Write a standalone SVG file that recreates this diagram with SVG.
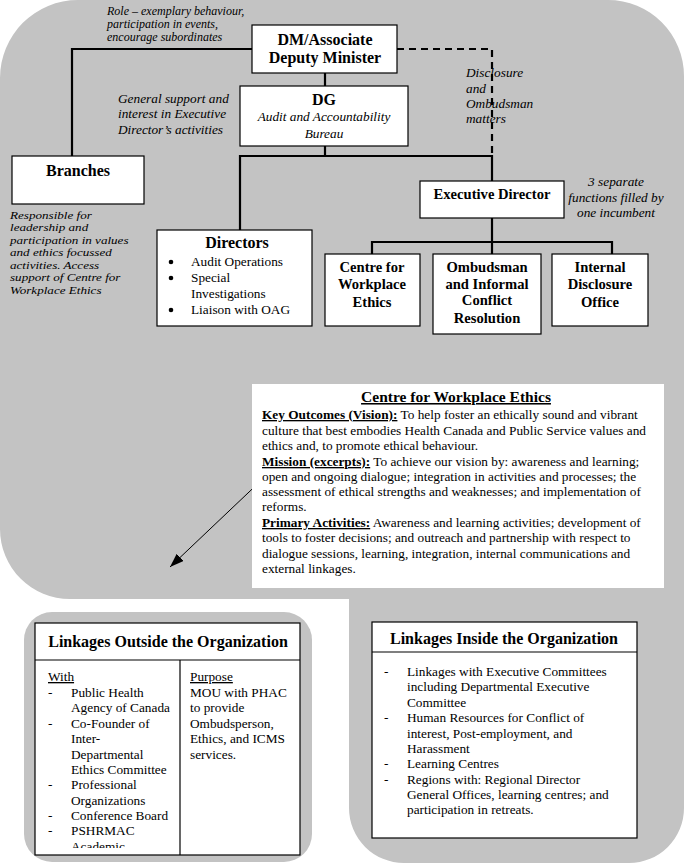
<svg xmlns="http://www.w3.org/2000/svg" width="686" height="865" viewBox="0 0 686 865">
<style>
text{font-family:"Liberation Serif","Times New Roman",serif;fill:#000}
.b{font-weight:bold}
.i{font-style:italic;font-size:13.3px}
.s{font-size:12px}
.xs{font-size:11.4px}
.t16{font-size:16px}
.t14{font-size:14.6px}
.r{font-size:13.3px}
.m{text-anchor:middle}
.u{text-decoration:underline}
.box{fill:#fff;stroke:#000;stroke-width:1.2}
.conn{fill:none;stroke:#000;stroke-width:2.2}
.dash{fill:none;stroke:#000;stroke-width:2.2;stroke-dasharray:7,5}
.bg{fill:#c3c3c3}
</style>
<defs>
<marker id="ah" markerUnits="userSpaceOnUse" markerWidth="15" markerHeight="11" refX="14" refY="5" orient="auto">
<path d="M0,0 L14,5 L0,10 Z" fill="#000"/>
</marker>
<clipPath id="clipOut"><rect x="36" y="661" width="144" height="187"/></clipPath>
</defs>

<g id="background">
<path class="bg" d="M78,0 H608 A76,76 0 0 1 684,76 V808 A55,55 0 0 1 629,863 H404 A55,55 0 0 1 349,808 V599 H70 A70,70 0 0 1 0,529 V78 A78,78 0 0 1 78,0 Z"/>
<rect class="bg" x="24" y="612" width="288" height="250" rx="28"/>
</g>

<g id="connectors">
<polyline class="conn" points="252,49 72,49 72,156"/>
<line class="conn" x1="325" y1="73" x2="325" y2="86"/>
<line class="conn" x1="325" y1="146" x2="325" y2="156"/>
<polyline class="conn" points="240,230 240,156 492,156"/>
<polyline class="dash" points="397,49 492,49 492,156"/>
<line class="conn" x1="492" y1="155" x2="492" y2="181"/>
<line class="conn" x1="492" y1="218" x2="492" y2="254"/>
<polyline class="conn" points="372,254 372,242 612,242 612,254"/>
<line x1="268" y1="474" x2="170" y2="567" stroke="#000" stroke-width="1" marker-end="url(#ah)"/>
</g>

<g id="label-role">
<text class="i s" x="107" y="15">Role – exemplary behaviour,</text>
<text class="i s" x="107" y="28">participation in events,</text>
<text class="i s" x="107" y="41">encourage subordinates</text>
</g>

<g id="node-dm">
<rect class="box" x="252" y="25" width="145" height="48"/>
<text class="b t16 m" x="325" y="45">DM/Associate</text>
<text class="b t16 m" x="325" y="63">Deputy Minister</text>
</g>

<g id="label-disclosure">
<text class="i" x="466" y="77">Disclosure</text>
<text class="i" x="466" y="93">and</text>
<text class="i" x="466" y="108">Ombudsman</text>
<text class="i" x="466" y="123">matters</text>
</g>

<g id="label-general">
<text class="i" x="118" y="103">General support and</text>
<text class="i" x="118" y="118">interest in Executive</text>
<text class="i" x="118" y="134">Director’s activities</text>
</g>

<g id="node-dg">
<rect class="box" x="240" y="86" width="168" height="60"/>
<text class="b t16 m" x="324" y="105">DG</text>
<text class="i m" x="324" y="121">Audit and Accountability</text>
<text class="i m" x="324" y="138">Bureau</text>
</g>

<g id="node-branches">
<rect class="box" x="12" y="156" width="132" height="48"/>
<text class="b t16 m" x="78" y="176">Branches</text>
</g>

<g id="label-branches" transform="scale(1.15,1)">
<text class="i xs" x="8.7" y="219">Responsible for</text>
<text class="i xs" x="8.7" y="231.5">leadership and</text>
<text class="i xs" x="8.7" y="244">participation in values</text>
<text class="i xs" x="8.7" y="256.5">and ethics focussed</text>
<text class="i xs" x="8.7" y="269">activities.  Access</text>
<text class="i xs" x="8.7" y="281.5">support of Centre for</text>
<text class="i xs" x="8.7" y="294">Workplace Ethics</text>
</g>

<g id="node-directors">
<rect class="box" x="157" y="230" width="155" height="96"/>
<text class="b t16 m" x="237" y="248">Directors</text>
<circle cx="171" cy="262" r="2.3"/>
<circle cx="171" cy="278" r="2.3"/>
<circle cx="171" cy="310" r="2.3"/>
<text class="r" x="191" y="266">Audit Operations</text>
<text class="r" x="191" y="282">Special</text>
<text class="r" x="191" y="298">Investigations</text>
<text class="r" x="191" y="314">Liaison with OAG</text>
</g>

<g id="node-ed">
<rect class="box" x="420" y="181" width="144" height="37"/>
<text class="b t14 m" x="492" y="199">Executive Director</text>
</g>

<g id="label-separate">
<text class="i m" x="616" y="186">3 separate</text>
<text class="i m" x="616" y="202">functions filled by</text>
<text class="i m" x="616" y="217">one incumbent</text>
</g>

<g id="node-centre">
<rect class="box" x="325" y="254" width="95" height="72"/>
<text class="b t14 m" x="372" y="272">Centre for</text>
<text class="b t14 m" x="372" y="289">Workplace</text>
<text class="b t14 m" x="372" y="307">Ethics</text>
</g>

<g id="node-ombudsman">
<rect class="box" x="433" y="254" width="108" height="80"/>
<text class="b t14 m" x="487" y="272">Ombudsman</text>
<text class="b t14 m" x="487" y="289">and Informal</text>
<text class="b t14 m" x="487" y="305">Conflict</text>
<text class="b t14 m" x="487" y="323">Resolution</text>
</g>

<g id="node-internal">
<rect class="box" x="552" y="254" width="96" height="72"/>
<text class="b t14 m" x="600" y="272">Internal</text>
<text class="b t14 m" x="600" y="289">Disclosure</text>
<text class="b t14 m" x="600" y="307">Office</text>
</g>

<g id="node-cwe-detail">
<rect x="252" y="384" width="412" height="204" fill="#fff"/>
<text class="b m u" x="456" y="402" style="font-size:15.5px">Centre for Workplace Ethics</text>
<text class="r" x="262" y="419"><tspan class="b u">Key Outcomes (Vision):</tspan>  To help foster an ethically sound and vibrant</text>
<text class="r" x="262" y="435">culture that best embodies Health Canada and Public Service values and</text>
<text class="r" x="262" y="450">ethics and, to promote ethical behaviour.</text>
<text class="r" x="262" y="466"><tspan class="b u">Mission (excerpts):</tspan>  To achieve our vision by: awareness and learning;</text>
<text class="r" x="262" y="481">open and ongoing dialogue; integration in activities and processes; the</text>
<text class="r" x="262" y="496">assessment of ethical strengths and weaknesses; and implementation of</text>
<text class="r" x="262" y="511">reforms.</text>
<text class="r" x="262" y="527"><tspan class="b u">Primary Activities:</tspan>  Awareness and learning activities; development of</text>
<text class="r" x="262" y="542">tools to foster decisions; and outreach and partnership with respect to</text>
<text class="r" x="262" y="558">dialogue sessions, learning, integration, internal communications and</text>
<text class="r" x="262" y="573">external linkages.</text>
</g>

<g id="node-outside">
<rect class="box" x="35" y="623" width="265" height="232"/>
<line x1="35" y1="660" x2="300" y2="660" stroke="#000" stroke-width="1.2"/>
<line x1="180" y1="660" x2="180" y2="855" stroke="#000" stroke-width="1.2"/>
<text class="b t16 m" x="168" y="647">Linkages Outside the Organization</text>
<text class="r u" x="48" y="681">With</text>
<g clip-path="url(#clipOut)">
<text class="r" x="48" y="697">-</text>
<text class="r" x="71" y="697">Public Health</text>
<text class="r" x="71" y="712">Agency of Canada</text>
<text class="r" x="48" y="728">-</text>
<text class="r" x="71" y="728">Co-Founder of</text>
<text class="r" x="71" y="743">Inter-</text>
<text class="r" x="71" y="759">Departmental</text>
<text class="r" x="71" y="774">Ethics Committee</text>
<text class="r" x="48" y="789">-</text>
<text class="r" x="71" y="789">Professional</text>
<text class="r" x="71" y="805">Organizations</text>
<text class="r" x="48" y="820">-</text>
<text class="r" x="71" y="820">Conference Board</text>
<text class="r" x="48" y="835">-</text>
<text class="r" x="71" y="835">PSHRMAC</text>
<text class="r" x="71" y="851">Academic</text>
</g>
<text class="r u" x="190" y="681">Purpose</text>
<text class="r" x="190" y="697">MOU with PHAC</text>
<text class="r" x="190" y="712">to provide</text>
<text class="r" x="190" y="728">Ombudsperson,</text>
<text class="r" x="190" y="743">Ethics, and ICMS</text>
<text class="r" x="190" y="759">services.</text>
</g>

<g id="node-inside">
<rect class="box" x="372" y="622" width="265" height="216"/>
<line x1="372" y1="652" x2="637" y2="652" stroke="#000" stroke-width="1.2"/>
<text class="b t16 m" x="504" y="644">Linkages Inside the Organization</text>
<text class="r" x="384" y="676">-</text>
<text class="r" x="407" y="676">Linkages with Executive Committees</text>
<text class="r" x="407" y="691">including Departmental Executive</text>
<text class="r" x="407" y="707">Committee</text>
<text class="r" x="384" y="722">-</text>
<text class="r" x="407" y="722">Human Resources for Conflict of</text>
<text class="r" x="407" y="738">interest, Post-employment, and</text>
<text class="r" x="407" y="753">Harassment</text>
<text class="r" x="384" y="768">-</text>
<text class="r" x="407" y="768">Learning Centres</text>
<text class="r" x="384" y="784">-</text>
<text class="r" x="407" y="784">Regions with:  Regional Director</text>
<text class="r" x="407" y="799">General Offices, learning centres; and</text>
<text class="r" x="407" y="814">participation in retreats.</text>
</g>
</svg>
